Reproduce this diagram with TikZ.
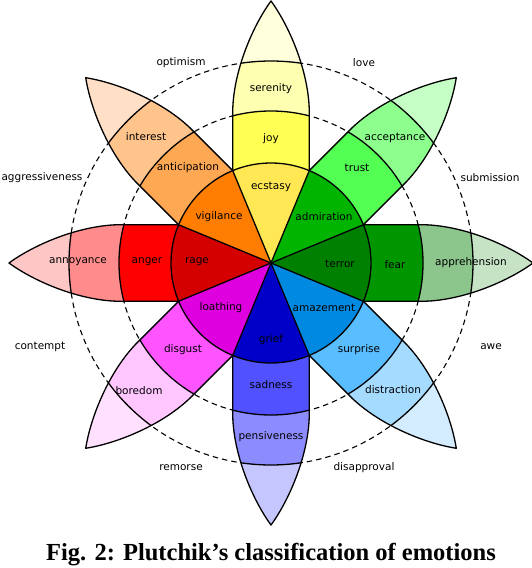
\documentclass[tikz,border=0pt]{standalone}
\usepackage{fontspec}
\newfontfamily\wheelfont{DejaVu Sans}
\newfontfamily\capfont{Liberation Serif}
\usepackage{tikz}
\usetikzlibrary{calc}
\usepackage{xcolor}
% petal colours: tip, outer band, middle band, inner sector
\definecolor{joyA}{HTML}{FFFFDC}\definecolor{joyB}{HTML}{FFFFB1}\definecolor{joyC}{HTML}{FFFF54}\definecolor{joyD}{HTML}{FFE854}
\definecolor{truA}{HTML}{C6FFC6}\definecolor{truB}{HTML}{8CFF8C}\definecolor{truC}{HTML}{54FF54}\definecolor{truD}{HTML}{00B400}
\definecolor{feaA}{HTML}{C6E3C6}\definecolor{feaB}{HTML}{8CC68C}\definecolor{feaC}{HTML}{009600}\definecolor{feaD}{HTML}{008000}
\definecolor{surA}{HTML}{D4ECFF}\definecolor{surB}{HTML}{A5DBFF}\definecolor{surC}{HTML}{59BDFF}\definecolor{surD}{HTML}{0089E0}
\definecolor{sadA}{HTML}{C6C6FF}\definecolor{sadB}{HTML}{8C8CFF}\definecolor{sadC}{HTML}{5151FF}\definecolor{sadD}{HTML}{0000C8}
\definecolor{disA}{HTML}{FFE0FF}\definecolor{disB}{HTML}{FFC6FF}\definecolor{disC}{HTML}{FF54FF}\definecolor{disD}{HTML}{DE00DE}
\definecolor{angA}{HTML}{FFC6C6}\definecolor{angB}{HTML}{FF8C8C}\definecolor{angC}{HTML}{FF0000}\definecolor{angD}{HTML}{D40000}
\definecolor{antA}{HTML}{FFE0C6}\definecolor{antB}{HTML}{FFC48C}\definecolor{antC}{HTML}{FFA854}\definecolor{antD}{HTML}{FF7D00}
\def\petal{(92.4,-38.3) -- (150,-38.3) .. controls (190,-38.3) and (236,-19) .. (262,0) .. controls (236,19) and (190,38.3) .. (150,38.3) -- (92.4,38.3)}

\begin{document}
\begin{tikzpicture}[
  x=1pt, y=1pt,
  outline/.style={draw=black, line width=1.3pt, line join=round},
  dyadring/.style={draw=black, line width=1.1pt, dash pattern=on 5.5pt off 4pt},
  emo/.style={font=\wheelfont\fontsize{10.5}{12}\selectfont, inner sep=0pt, text=black},
  caption/.style={font=\capfont\bfseries\fontsize{24.5}{28}\selectfont, inner sep=0pt}
]
  \useasboundingbox (-271,-305) rectangle (261,263);

  % dyad rings
  \draw[dyadring] (0,0) circle (152);
  \draw[dyadring] (0,0) circle (202);

  % petals and inner sectors
  \foreach \ang/\tipc/\outc/\midc/\inc in {
      90/joyA/joyB/joyC/joyD, 45/truA/truB/truC/truD,
      0/feaA/feaB/feaC/feaD, -45/surA/surB/surC/surD,
      -90/sadA/sadB/sadC/sadD, -135/disA/disB/disC/disD,
      180/angA/angB/angC/angD, 135/antA/antB/antC/antD} {
    \begin{scope}[rotate=\ang]
      \fill[\tipc] \petal;
      \begin{scope}
        \clip (0,0) circle (202);
        \fill[\outc] \petal;
      \end{scope}
      \begin{scope}
        \clip (0,0) circle (152);
        \fill[\midc] \petal;
      \end{scope}
      \begin{scope}
        \clip \petal -- cycle;
        \draw[outline] (0,0) circle (152) (0,0) circle (202);
      \end{scope}
      \draw[outline] \petal;
      \fill[\inc] (0,0) -- (-22.5:100) arc (-22.5:22.5:100) -- cycle;
    \end{scope}
  }
  \foreach \a in {22.5,67.5,...,337.5}
    \draw[outline] (0,0) -- (\a:100);
  \draw[outline] (0,0) circle (100);

  % inner ring
  \node[emo] (ecstasy) at (0,76) {ecstasy};
  \node[emo] (admiration) at (53,46) {admiration};
  \node[emo] (terror) at (69,-1) {terror};
  \node[emo] (amazement) at (53,-45) {amazement};
  \node[emo] (grief) at (0,-77) {grief};
  \node[emo] (loathing) at (-50,-45) {loathing};
  \node[emo] (rage) at (-74,1) {rage};
  \node[emo] (vigilance) at (-52,46) {vigilance};

  % middle ring
  \node[emo] (joy) at (0,124) {joy};
  \node[emo] (trust) at (86,95) {trust};
  \node[emo] (fear) at (124,-2) {fear};
  \node[emo] (surprise) at (88,-87) {surprise};
  \node[emo] (sadness) at (0,-122) {sadness};
  \node[emo] (disgust) at (-88,-87) {disgust};
  \node[emo] (anger) at (-124,1) {anger};
  \node[emo] (anticipation) at (-83,95) {anticipation};

  % outer ring
  \node[emo] (serenity) at (0,174) {serenity};
  \node[emo] (acceptance) at (124,125) {acceptance};
  \node[emo] (apprehension) at (200,0) {apprehension};
  \node[emo] (distraction) at (122,-127) {distraction};
  \node[emo] (pensiveness) at (0,-174) {pensiveness};
  \node[emo] (boredom) at (-132,-128) {boredom};
  \node[emo] (annoyance) at (-193,1) {annoyance};
  \node[emo] (interest) at (-125,126) {interest};

  % dyads
  \node[emo] (optimism) at (-90,200) {optimism};
  \node[emo] (love) at (93,200) {love};
  \node[emo] (submission) at (219,85) {submission};
  \node[emo] (awe) at (220,-84) {awe};
  \node[emo] (disapproval) at (93,-205) {disapproval};
  \node[emo] (remorse) at (-90,-205) {remorse};
  \node[emo] (contempt) at (-231,-84) {contempt};
  \node[emo] (aggressiveness) at (-229,85) {aggressiveness};

  \node[caption] (cap) at (0,-292) {Fig. 2: Plutchik’s classification of emotions};
\end{tikzpicture}
\end{document}
